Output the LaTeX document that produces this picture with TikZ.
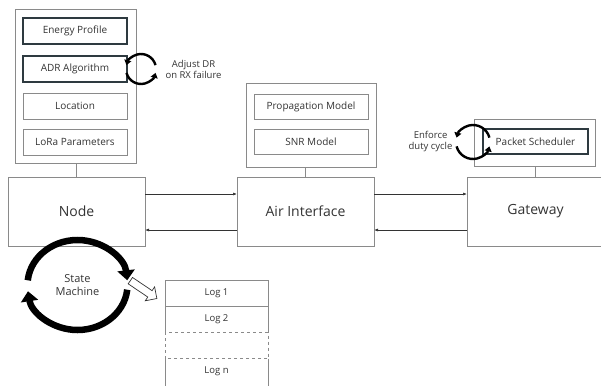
\documentclass[tikz,border=0pt]{standalone}
\usepackage{fontspec}
\setmainfont{Open Sans}
\usetikzlibrary{arrows.meta,positioning,shapes.arrows,calc}
\definecolor{framegray}{HTML}{8A8A8A}
\definecolor{darkedge}{HTML}{2E3A40}
\definecolor{textgray}{HTML}{333333}
\tikzset{
  container/.style={draw=framegray, line width=0.8pt, inner sep=0pt, outer sep=0pt},
  module/.style={
    draw=framegray,
    line width=0.8pt,
    minimum width=104pt,
    minimum height=26pt,
    inner sep=0pt,
    outer sep=0pt,
    font=\fontsize{10}{12}\selectfont,
    text=textgray
  },
  keymodule/.style={module, draw=darkedge, line width=1.6pt},
  entity/.style={
    draw=framegray,
    line width=0.8pt,
    minimum width=137pt,
    minimum height=69pt,
    outer sep=0pt,
    font=\fontsize{14}{16}\selectfont,
    text=textgray
  },
  logentry/.style={
    minimum width=103pt,
    minimum height=26pt,
    outer sep=0pt,
    font=\fontsize{9.5}{11}\selectfont,
    text=textgray
  },
  link/.style={-{Latex[length=4pt,width=3pt]}, draw=textgray, line width=0.7pt},
  tie/.style={draw=framegray, line width=0.8pt},
  loopcap/.style={font=\fontsize{9.5}{11}\selectfont, text=textgray, align=center},
  turnarrow/.style={-{Triangle[length=5pt,width=7pt]}, line width=2.4pt},
  bigturn/.style={-{Triangle[length=10pt,width=17pt]}, line width=6.5pt}
}
\begin{document}
\begin{tikzpicture}[x=1pt, y=-1pt]
\useasboundingbox (0,0) rectangle (601,385);
\clip (0,0) rectangle (601,385);

% Node side
\node[container, minimum width=121pt, minimum height=154pt] (nodestack) at (75.5,86) {};
\node[keymodule] (energy) at (75,31) {Energy Profile};
\node[keymodule] (adr) at (75,69) {ADR Algorithm};
\node[module] (location) at (75,106) {Location};
\node[module] (lorapar) at (75,142) {LoRa Parameters};
\node[entity] (node) at (76.5,211.5) {Node};

% Air interface side
\node[container, minimum width=130pt, minimum height=84pt] (airstack) at (311,125) {};
\node[module, minimum width=114pt, minimum height=25pt] (propag) at (311,106.5) {Propagation Model};
\node[module, minimum width=114pt, minimum height=25pt] (snr) at (311,141.5) {SNR Model};
\node[entity] (air) at (305.5,211.5) {Air Interface};

% Gateway side
\node[container, minimum width=121pt, minimum height=47pt] (gwstack) at (534.5,142.5) {};
\node[keymodule, minimum width=105pt, minimum height=25pt] (sched) at (535.5,141.5) {Packet Scheduler};
\node[entity] (gateway) at (535.5,211.5) {Gateway};

% Stack ties
\draw[tie] (node.north) -- (node.north |- nodestack.south);
\draw[tie] (air.north) -- (air.north |- airstack.south);
\draw[tie] (gateway.north) -- (gateway.north |- gwstack.south);

% Uplink / downlink
\draw[link] ([yshift=17.5pt]node.east) -- ([yshift=17.5pt]air.west);
\draw[link] ([yshift=-18.5pt]air.west) -- ([yshift=-18.5pt]node.east);
\draw[link] ([yshift=17.5pt]air.east) -- ([yshift=17.5pt]gateway.west);
\draw[link] ([yshift=-18.5pt]gateway.west) -- ([yshift=-18.5pt]air.east);

% Adaptation loops
\coordinate (adrloop) at (141,69);
\draw[turnarrow] ($(adrloop)+(-15:15)$) arc[start angle=-15, end angle=-165, radius=15];
\draw[turnarrow] ($(adrloop)+(-195:15)$) arc[start angle=-195, end angle=-345, radius=15];
\node[loopcap, anchor=west] (adrnote) at (162,69) {Adjust DR\\on RX failure};

\coordinate (dutyloop) at (473,142);
\draw[turnarrow] ($(dutyloop)+(-15:17)$) arc[start angle=-15, end angle=-165, radius=17];
\draw[turnarrow] ($(dutyloop)+(-195:17)$) arc[start angle=-195, end angle=-345, radius=17];
\node[loopcap, anchor=east] (dutynote) at (456,142) {Enforce\\duty cycle};

% State machine and log
\node[loopcap, font=\fontsize{11}{13}\selectfont] (fsm) at (77.5,285) {State\\Machine};
\draw[bigturn] ($(fsm.center)+(-174:50 and 45)$) arc[start angle=-174, end angle=-6, x radius=50, y radius=45];
\draw[bigturn] ($(fsm.center)+(6:50 and 45)$) arc[start angle=6, end angle=172, x radius=50, y radius=45];

\node[logentry, draw=framegray, line width=0.8pt] (log1) at (216.5,293.5) {Log 1};
\node[logentry, below=0pt of log1] (log2) {Log 2};
\node[logentry, below=0pt of log2] (logdots) {};
\node[logentry, below=0pt of logdots, minimum height=30pt, text depth=0pt] (logn) {};
\node[logentry, anchor=north] (logntext) at (logdots.south) {Log n};
\draw[tie] (log2.south west) |- (log2.north east) -- (log2.south east);
\draw[tie, dashed] (logdots.south west) rectangle (logdots.north east);
\draw[tie] (logn.north west) -- (logn.south west);
\draw[tie] (logn.north east) -- (logn.south east);

\node[single arrow, draw=textgray, fill=white, line width=0.7pt, minimum height=32pt,
      inner sep=3.5pt, single arrow head extend=4.5pt, rotate=-34]
      (dumparrow) at (142,288.5) {};

\end{tikzpicture}
\end{document}
